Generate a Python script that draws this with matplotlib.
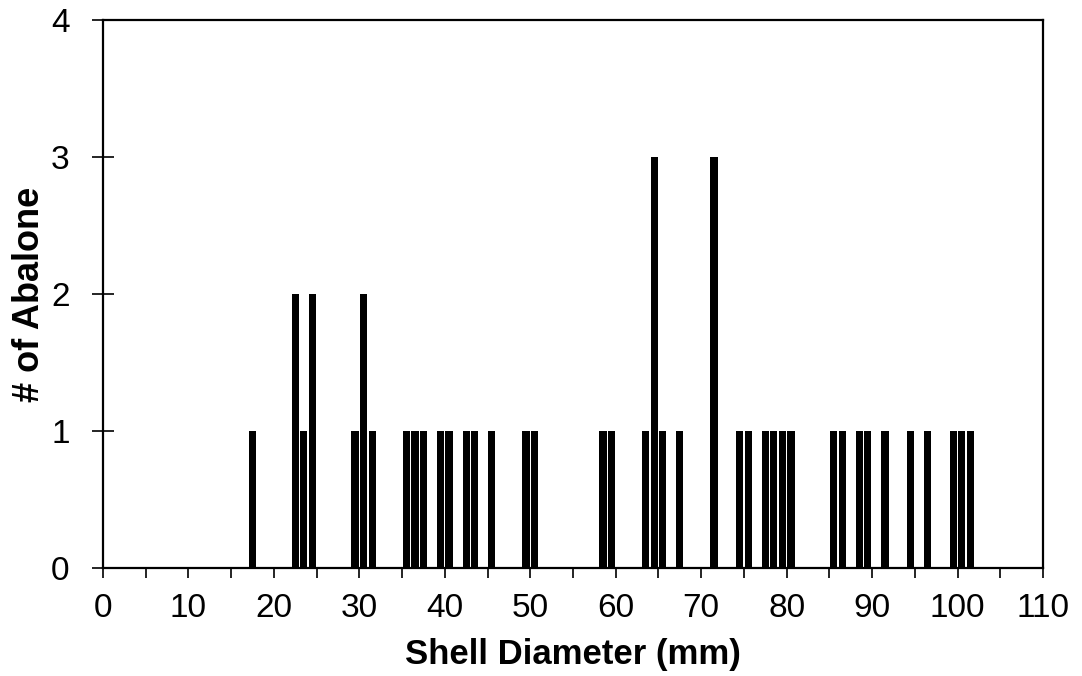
import numpy as np
import matplotlib
matplotlib.use('Agg')
import matplotlib.pyplot as plt

# shell diameters (mm) and number of abalone at each
diameters = [17, 22, 23, 24, 29, 30, 31, 35, 36, 37, 39, 40, 42, 43, 45, 49, 50,
             58, 59, 63, 64, 65, 67, 71, 74, 75, 77, 78, 79, 80, 85, 86, 88, 89,
             91, 94, 96, 99, 100, 101]
counts = [1, 2, 1, 2, 1, 2, 1, 1, 1, 1, 1, 1, 1, 1, 1, 1, 1,
          1, 1, 1, 3, 1, 1, 3, 1, 1, 1, 1, 1, 1, 1, 1, 1, 1,
          1, 1, 1, 1, 1, 1]
x_ticks = np.arange(0, 111, 5)
x_labels = [str(v) if v % 10 == 0 else '' for v in x_ticks]
y_ticks = [0, 1, 2, 3, 4]

plt.rcParams['font.family'] = ['Liberation Sans', 'DejaVu Sans']

fig = plt.figure(figsize=(10.82, 6.76), dpi=100)
ax = fig.add_axes([103 / 1082, 1 - 568 / 676, 940 / 1082, 548 / 676])

ax.bar(np.array(diameters) + 0.5, counts, width=0.85, color='black',
       edgecolor='black', linewidth=0)

ax.set_xlim(0, 110)
ax.set_ylim(0, 4)
ax.set_xticks(x_ticks)
ax.set_xticklabels(x_labels)
ax.set_yticks(y_ticks)

for s in ax.spines.values():
    s.set_linewidth(1.6)
    s.set_color('black')

ax.tick_params(axis='x', direction='out', length=7, width=1.2,
               labelsize=24, pad=11)
ax.tick_params(axis='y', direction='inout', length=16, width=1.2,
               labelsize=24, pad=16)

ax.set_xlabel("Shell Diameter (mm)", fontsize=25, fontweight='bold')
ax.set_ylabel("# of Abalone", fontsize=26, fontweight='bold')
ax.xaxis.set_label_coords(0.5, -0.127)
ax.yaxis.set_label_coords(-0.06, 0.5)

fig.savefig("out.png", dpi=100)
